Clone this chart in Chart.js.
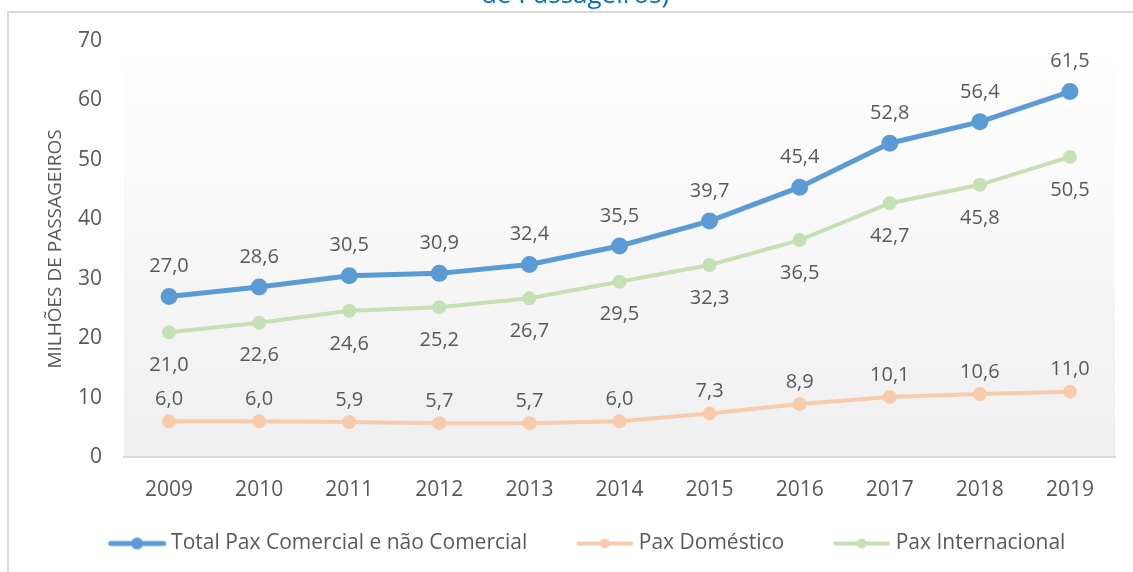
<!DOCTYPE html>
<html>
<head>
<meta charset="utf-8">
<script src="https://cdn.jsdelivr.net/npm/chart.js@4.4.0/dist/chart.umd.min.js"></script>
<style>
  html, body { margin: 0; padding: 0; background: #fff; }
  #wrap { width: 1133px; height: 572px; }
</style>
</head>
<body>
<div id="wrap"><canvas id="paxChart" width="1133" height="572"></canvas></div>
<script>
    const years = ["2009", "2010", "2011", "2012", "2013", "2014", "2015", "2016", "2017", "2018", "2019"];
    const totalPax = [27.0, 28.6, 30.5, 30.9, 32.4, 35.5, 39.7, 45.4, 52.8, 56.4, 61.5];
    const domPax = [6.0, 6.0, 5.9, 5.7, 5.7, 6.0, 7.3, 8.9, 10.1, 10.6, 11.0];
    const intlPax = [21.0, 22.6, 24.6, 25.2, 26.7, 29.5, 32.3, 36.5, 42.7, 45.8, 50.5];
    const seriesNames = ["Total Pax Comercial e não Comercial", "Pax Doméstico", "Pax Internacional"];

    const textGray = "#595959";
    Chart.defaults.font.family = "'Open Sans', sans-serif";
    Chart.defaults.color = textGray;

    // legend markers: line with a dot in the middle, like excel
    // (image is a bit wider than the legend box so the line sits close to the text)
    const markerBox = 73;
    function legendMarker(color, lineW, r) {
      const c = document.createElement("canvas");
      c.width = markerBox + 14; c.height = 16;
      const ctx = c.getContext("2d");
      ctx.strokeStyle = color;
      ctx.lineWidth = lineW;
      ctx.lineCap = "round";
      ctx.beginPath();
      ctx.moveTo(30, 8); ctx.lineTo(83, 8);
      ctx.stroke();
      ctx.fillStyle = color;
      ctx.beginPath();
      ctx.arc(56.5, 8, r, 0, Math.PI * 2);
      ctx.fill();
      return c;
    }
    const markers = [
      legendMarker("#5b9bd5", 5, 6),
      legendMarker("#f8cbad", 4, 5),
      legendMarker("#c5e0b4", 4, 5)
    ];

    // frame, cut title and plot gradient
    const backdrop = {
      id: "backdrop",
      beforeDraw(chart) {
        const ctx = chart.ctx;
        const a = chart.chartArea;
        ctx.save();
        ctx.fillStyle = "#fff";
        ctx.fillRect(0, 0, chart.width, chart.height);
        ctx.fillStyle = "#0070c0";
        ctx.font = "26px 'Open Sans', sans-serif";
        ctx.textAlign = "center";
        ctx.textBaseline = "alphabetic";
        ctx.fillText("de Passageiros)", 575, 3);
        ctx.strokeStyle = "#d9d9d9";
        ctx.lineWidth = 2;
        ctx.beginPath();
        ctx.moveTo(chart.width, 12);
        ctx.lineTo(8, 12);
        ctx.lineTo(8, chart.height);
        ctx.stroke();
        const g = ctx.createLinearGradient(0, a.top, 0, a.bottom);
        g.addColorStop(0, "#ffffff");
        g.addColorStop(1, "#efefef");
        ctx.fillStyle = g;
        ctx.fillRect(a.left, a.top, a.right - a.left, a.bottom - a.top);
        ctx.restore();
      }
    };

    // value labels
    const labelOffsets = [-30, -22, 33];
    const valueLabels = {
      id: "valueLabels",
      afterDatasetsDraw(chart) {
        const ctx = chart.ctx;
        ctx.save();
        ctx.font = "20px 'Open Sans', sans-serif";
        ctx.fillStyle = textGray;
        ctx.textAlign = "center";
        ctx.textBaseline = "middle";
        chart.data.datasets.forEach((ds, i) => {
          chart.getDatasetMeta(i).data.forEach((pt, j) => {
            ctx.fillText(ds.data[j].toFixed(1).replace(".", ","), pt.x, pt.y + labelOffsets[i]);
          });
        });
        ctx.restore();
      }
    };

    new Chart(document.getElementById("paxChart"), {
      type: "line",
      data: {
        labels: years,
        datasets: [{
          label: seriesNames[0],
          data: totalPax,
          borderColor: "#5b9bd5",
          backgroundColor: "#5b9bd5",
          borderWidth: 5,
          pointRadius: 6,
          pointHoverRadius: 6
        }, {
          label: seriesNames[1],
          data: domPax,
          borderColor: "#f8cbad",
          backgroundColor: "#f8cbad",
          borderWidth: 4,
          pointRadius: 5,
          pointHoverRadius: 5
        }, {
          label: seriesNames[2],
          data: intlPax,
          borderColor: "#c5e0b4",
          backgroundColor: "#c5e0b4",
          borderWidth: 4,
          pointRadius: 5,
          pointHoverRadius: 5
        }]
      },
      options: {
        responsive: false,
        animation: false,
        layout: {
          padding: { top: 41, right: 18, bottom: 8, left: 38 }
        },
        plugins: {
          tooltip: { enabled: false },
          legend: {
            position: "bottom",
            labels: {
              usePointStyle: true,
              pointStyleWidth: markerBox,
              padding: 28,
              color: textGray,
              font: { size: 21 },
              generateLabels(chart) {
                const items = Chart.defaults.plugins.legend.labels.generateLabels(chart);
                items.forEach((it, i) => { it.pointStyle = markers[i]; });
                return items;
              }
            }
          }
        },
        scales: {
          x: {
            offset: true,
            grid: { display: false, drawTicks: false },
            border: { display: true, color: "#d9d9d9", width: 2 },
            ticks: { padding: 20, font: { size: 21 }, color: textGray },
            afterFit(scale) { scale.height = 48; }
          },
          y: {
            min: 0,
            max: 70,
            grid: { display: false, drawTicks: false },
            border: { display: false },
            ticks: { stepSize: 10, padding: 22, font: { size: 21 }, color: textGray },
            title: {
              display: true,
              text: "MILHÕES DE PASSAGEIROS",
              color: textGray,
              font: { size: 19 },
              padding: { top: 6, bottom: 0 }
            },
            afterFit(scale) { scale.width = 86; }
          }
        }
      },
      plugins: [backdrop, valueLabels]
    });
</script>
</body>
</html>
